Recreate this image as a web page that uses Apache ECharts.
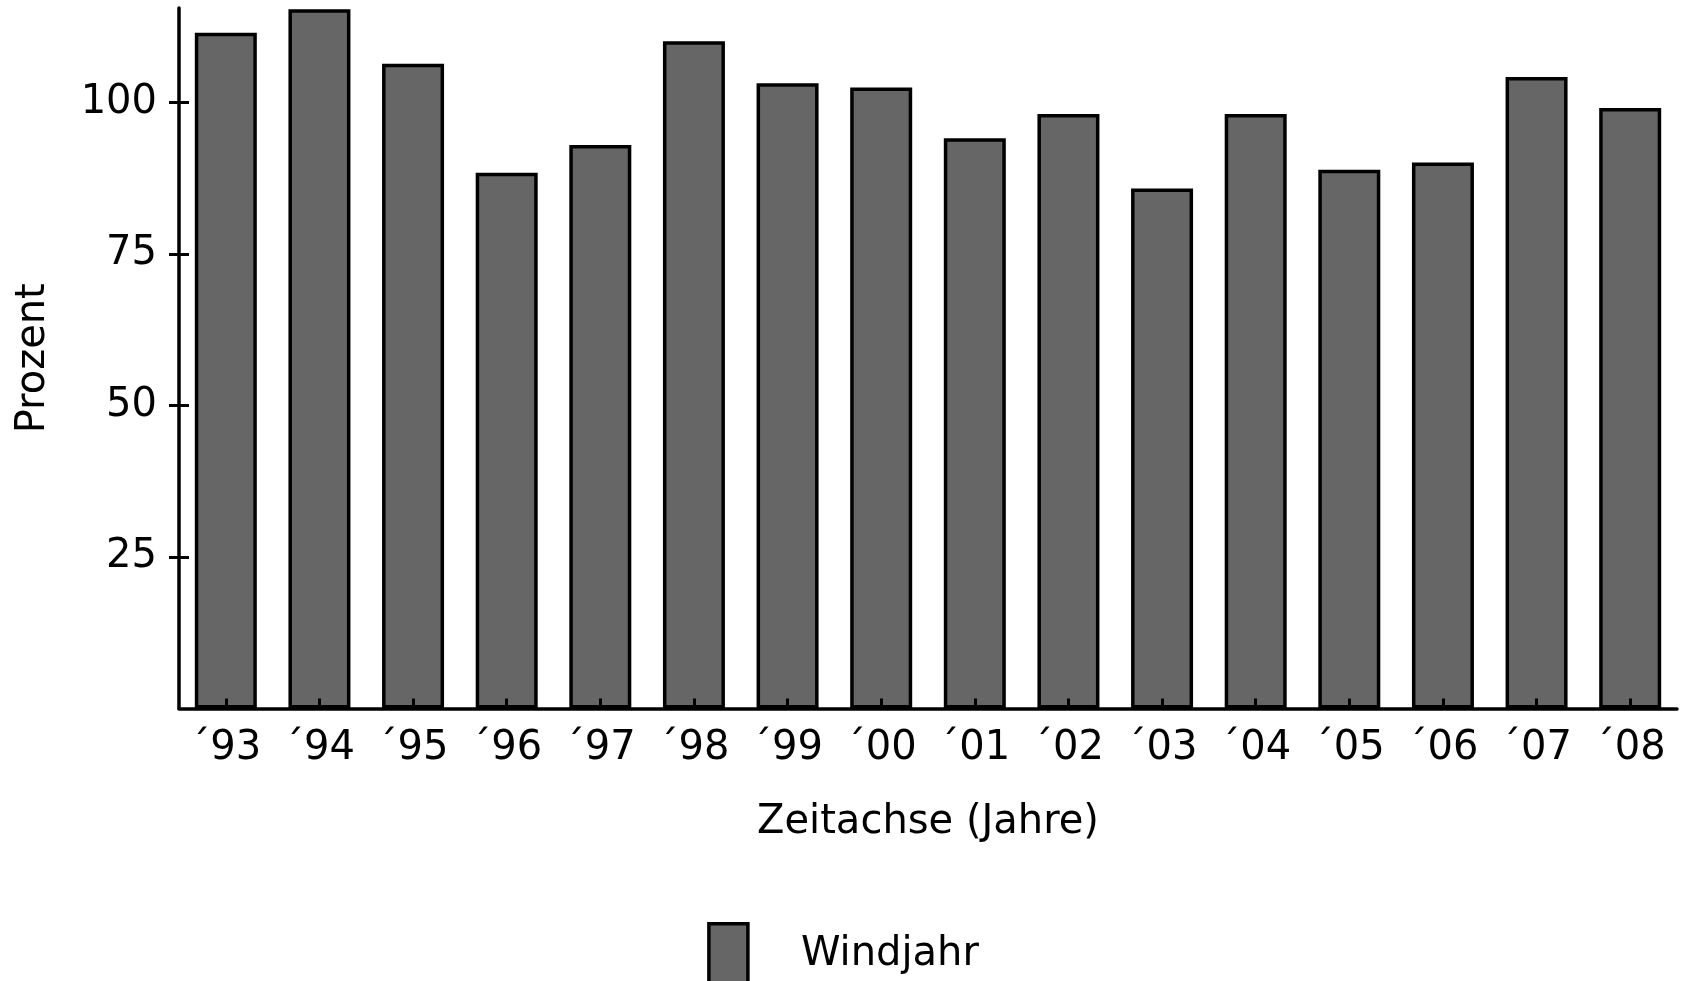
<!DOCTYPE html>
<html>
<head>
<meta charset="utf-8">
<script src="https://cdn.jsdelivr.net/npm/echarts@6/dist/echarts.min.js"></script>
<style>
html,body{margin:0;padding:0;background:#fff;}
#chart{width:1686px;height:981px;}
</style>
</head>
<body>
<div id="chart"></div>
<script>
const categories = ['´93','´94','´95','´96','´97','´98','´99','´00','´01','´02','´03','´04','´05','´06','´07','´08'];
const windjahr = [111.5, 115.4, 106.4, 88.4, 93.0, 110.1, 103.2, 102.5, 94.1, 98.1, 85.8, 98.1, 88.9, 90.1, 104.2, 99.1];
const yTicks = [25, 50, 75, 100];
const yMax = 115.6;

const FONT = '"DejaVu Sans", Verdana, sans-serif';
const FS = 40;

const chart = echarts.init(document.getElementById('chart'));
chart.setOption({
  animation: false,
  backgroundColor: '#ffffff',
  textStyle: { fontFamily: FONT, color: '#000' },
  grid: { left: 179, right: 9, top: 8, bottom: 272.5, containLabel: false },
  legend: {
    data: ['Windjahr'],
    left: 'center',
    top: 917,
    icon: 'rect',
    itemWidth: 39,
    itemHeight: 61,
    itemStyle: { color: '#666666', borderColor: '#000', borderWidth: 3.5 },
    textStyle: { fontFamily: FONT, fontSize: FS, color: '#000', padding: [0, 0, 0, 48] }
  },
  xAxis: [{
    type: 'category',
    data: categories,
    name: 'Zeitachse (Jahre)',
    nameLocation: 'middle',
    nameGap: 94,
    nameTextStyle: { fontFamily: FONT, fontSize: FS, color: '#000' },
    z: 10,
    axisLine: { lineStyle: { color: '#000', width: 3.5 } },
    axisTick: { alignWithLabel: true, length: 10, lineStyle: { color: '#000', width: 3 } },
    axisLabel: { fontFamily: FONT, fontSize: FS, color: '#000', margin: 20 },
    splitLine: { show: false }
  }, {
    type: 'category',
    data: categories,
    position: 'bottom',
    z: 10,
    axisLine: { show: false },
    axisTick: { show: true, alignWithLabel: true, inside: true, length: 10, lineStyle: { color: '#000', width: 3 } },
    axisLabel: { show: false },
    splitLine: { show: false }
  }],
  yAxis: [{
    type: 'value',
    min: 0,
    max: yMax,
    interval: 25,
    name: 'Prozent',
    nameLocation: 'middle',
    nameGap: 125,
    nameTextStyle: { fontFamily: FONT, fontSize: FS, color: '#000' },
    z: 10,
    axisLine: { show: true, lineStyle: { color: '#000', width: 3.5 } },
    axisTick: { show: true, length: 10, customValues: yTicks, lineStyle: { color: '#000', width: 3 } },
    axisLabel: { fontFamily: FONT, fontSize: FS, color: '#000', margin: 22, customValues: yTicks },
    splitLine: { show: false }
  }, {
    type: 'value',
    min: 0,
    max: yMax,
    interval: 25,
    position: 'left',
    offset: 0,
    z: 10,
    axisLine: { show: false },
    axisTick: { show: true, inside: true, length: 10, customValues: yTicks, lineStyle: { color: '#000', width: 3 } },
    axisLabel: { show: false },
    splitLine: { show: false }
  }],
  series: [{
    name: 'Windjahr',
    type: 'bar',
    data: windjahr,
    barWidth: 62,
    itemStyle: { color: '#666666', borderColor: '#000', borderWidth: 3.5 }
  }]
});
</script>
</body>
</html>
